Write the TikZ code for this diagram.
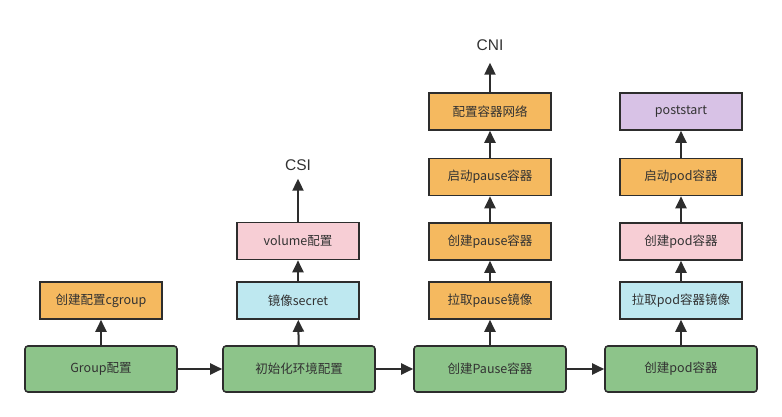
\documentclass[tikz,border=0pt]{standalone}
\usepackage{fontspec}
\setmainfont{Noto Sans CJK SC}
\newfontfamily\labelfont{Liberation Sans}
\usepackage{tikz}
\usetikzlibrary{arrows.meta}

\definecolor{linegray}{RGB}{45,45,45}
\definecolor{textgray}{RGB}{50,50,50}
\definecolor{stepgreen}{RGB}{141,196,138}
\definecolor{steporange}{RGB}{245,185,95}
\definecolor{stepblue}{RGB}{190,232,240}
\definecolor{steppink}{RGB}{247,206,213}
\definecolor{steppurple}{RGB}{216,194,230}

\begin{document}
\begin{tikzpicture}[x=1pt, y=-1pt,
    every node/.style={font=\fontsize{12.5}{14}\selectfont, text=textgray},
    mainbox/.style={draw=linegray, line width=1.6pt, rounded corners=3pt, fill=stepgreen,
      minimum width=152pt, minimum height=46pt, inner sep=0pt},
    subbox/.style={draw=linegray, line width=1.6pt,
      minimum width=122pt, minimum height=37pt, inner sep=0pt},
    extlabel/.style={font=\labelfont\fontsize{15.5}{17}\selectfont, inner sep=2pt},
    flow/.style={draw=linegray, line width=2pt, -{Triangle[length=12pt,width=11pt]}}]

    \useasboundingbox (0,0) rectangle (782,417);

    % Main flow
    \node[mainbox] (group) at (101,369) {Group配置};
    \node[mainbox] (init)  at (299,369) {初始化环境配置};
    \node[mainbox] (pause) at (490,369) {创建Pause容器};
    \node[mainbox] (pod)   at (681,369) {创建pod容器};

    % Column of Group
    \node[subbox, fill=steporange] (cgroup) at (101,300.5) {创建配置cgroup};

    % Column of init
    \node[subbox, fill=stepblue] (secret) at (298,300.5) {镜像secret};
    \node[subbox, fill=steppink] (volume) at (298,241) {volume配置};
    \node[extlabel] (csi) at (298,165) {CSI};

    % Column of pause
    \node[subbox, fill=steporange] (pullpause)  at (490,300.5) {拉取pause镜像};
    \node[subbox, fill=steporange] (makepause)  at (490,241.5) {创建pause容器};
    \node[subbox, fill=steporange] (startpause) at (490,177) {启动pause容器};
    \node[subbox, fill=steporange] (network)    at (490,111.5) {配置容器网络};
    \node[extlabel] (cni) at (490,45) {CNI};

    % Column of pod
    \node[subbox, fill=stepblue]   (pullpod)   at (681,300.5) {拉取pod容器镜像};
    \node[subbox, fill=steppink]   (makepod)   at (681,241.5) {创建pod容器};
    \node[subbox, fill=steporange] (startpod)  at (681,177) {启动pod容器};
    \node[subbox, fill=steppurple] (poststart) at (681,111.5) {poststart};

    % Arrows
    \draw[flow] (group) -- (init);
    \draw[flow] (init) -- (pause);
    \draw[flow] (pause) -- (pod);

    \draw[flow] (group) -- (cgroup);
    \draw[flow] (init) -- (secret);
    \draw[flow] (secret) -- (volume);
    \draw[flow, shorten >=6pt] (volume) -- (csi);
    \draw[flow] (pause) -- (pullpause);
    \draw[flow] (pullpause) -- (makepause);
    \draw[flow] (makepause) -- (startpause);
    \draw[flow] (startpause) -- (network);
    \draw[flow, shorten >=10pt] (network) -- (cni);
    \draw[flow] (pod) -- (pullpod);
    \draw[flow] (pullpod) -- (makepod);
    \draw[flow] (makepod) -- (startpod);
    \draw[flow] (startpod) -- (poststart);

\end{tikzpicture}
\end{document}
